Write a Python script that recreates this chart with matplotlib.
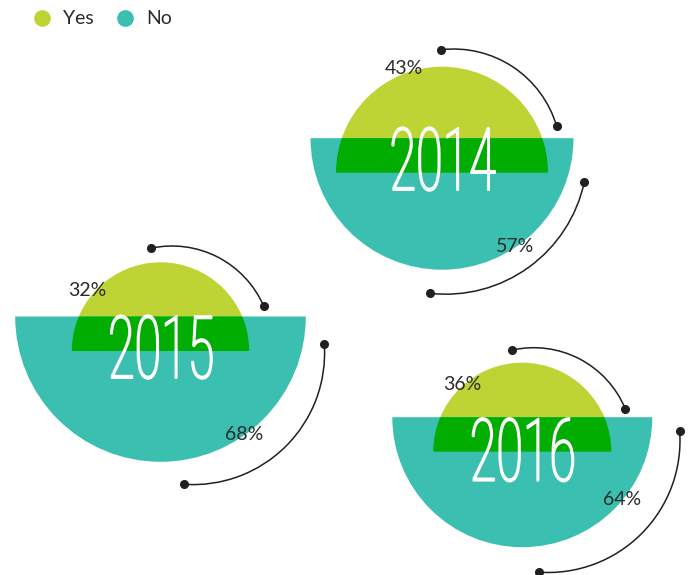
import numpy as np
import matplotlib
matplotlib.use('Agg')
import matplotlib.pyplot as plt
from matplotlib.patches import Wedge, Arc
from matplotlib import patheffects
from matplotlib.transforms import Affine2D

# dati
anni = ['2014', '2015', '2016']
si = [43, 32, 36]
no = [57, 68, 64]

# colori
giallo = '#bed434'
verde_acqua = '#3abfb1'
verde = '#00ad00'
scuro = '#2b2b2b'

# layout (pixel, y verso il basso)
centri = [(442, 172.7), (160.5, 351), (522.3, 451.7)]
r_si = [106, 88.7, 89]
r_no = [131.5, 145.3, 130]
fascia = 34.5
anno_base = [17.3, 27, 29]          # baseline del testo anno rispetto al centro
pos_si = [(-38, -104.7), (-73, -61), (-60, -67)]
pos_no = [(73, 73.3), (83.5, 84), (100, 48)]
# archi: dx, dy, raggio, theta1, theta2
archi_su = [(11.5, -16.2, 107.5, -96.7, -16.3),
            (11.5, -5, 100, -102.1, -23.7),
            (11.5, -5, 99, -102.7, -22.5)]
archi_giu = [(3.6, -20.3, 141.8, 11.9, 96.3),
             (32.5, 2, 131.6, -3.9, 93.9),
             (25.7, -11.2, 132, -4.1, 93.9)]


class Schiaccia(patheffects.Stroke):
    # allunga/stringe il testo (font condensato) e ispessisce il tratto
    def __init__(self, sx, sy, **kw):
        super().__init__(**kw)
        self.sx = sx
        self.sy = sy

    def draw_path(self, renderer, gc, tpath, affine, rgbFace=None):
        ext = tpath.get_extents()
        m = (ext.x0 + ext.x1) / 2
        t = Affine2D().translate(-m, 0).scale(self.sx, self.sy).translate(m, 0)
        super().draw_path(renderer, gc, tpath, t + affine, rgbFace)


fig = plt.figure(figsize=(6.91, 5.75), dpi=100)
ax = fig.add_axes([0, 0, 1, 1])
ax.set_xlim(0, 691)
ax.set_ylim(575, 0)
ax.axis('off')

for i in range(len(anni)):
    cx, cy = centri[i]
    # semicerchio sopra (si) e sotto (no)
    sopra = Wedge((cx, cy), r_si[i], 180, 360, color=giallo, lw=0)
    sotto = Wedge((cx, cy - fascia), r_no[i], 0, 180, color=verde_acqua, lw=0)
    ax.add_patch(sopra)
    ax.add_patch(sotto)
    sovrap = Wedge((cx, cy), r_si[i], 180, 360, color=verde, lw=0)
    ax.add_patch(sovrap)
    sovrap.set_clip_path(sotto)

    ax.text(cx + 0.5, cy + anno_base[i], anni[i], ha='center', va='baseline',
            fontsize=36, family='Roboto', fontweight='light', color='white',
            path_effects=[Schiaccia(0.97, 1.74, linewidth=1.3, foreground='white')])

    ax.text(cx + pos_si[i][0], cy + pos_si[i][1], str(si[i]) + '%',
            ha='center', va='center', fontsize=14, family='Lato', color=scuro)
    ax.text(cx + pos_no[i][0], cy + pos_no[i][1], str(no[i]) + '%',
            ha='center', va='center', fontsize=14, family='Lato', color=scuro)

    for dx, dy, r, t1, t2 in (archi_su[i], archi_giu[i]):
        ac = (cx + dx, cy + dy)
        ax.add_patch(Arc(ac, 2 * r, 2 * r, theta1=t1, theta2=t2, color='#231f20', lw=1.1))
        ang = np.radians([t1, t2])
        ax.plot(ac[0] + r * np.cos(ang), ac[1] + r * np.sin(ang), 'o',
                color='#231f20', ms=5.5, ls='none')

# legenda
for lab, col, x in (('Yes', giallo, 42.5), ('No', verde_acqua, 125)):
    ax.plot(x, 17.5, 'o', color=col, ms=11)
    ax.text(x + 21, 18, lab, va='center', ha='left', fontsize=14, family='Lato', color=scuro)

fig.savefig('out.png', dpi=100)
